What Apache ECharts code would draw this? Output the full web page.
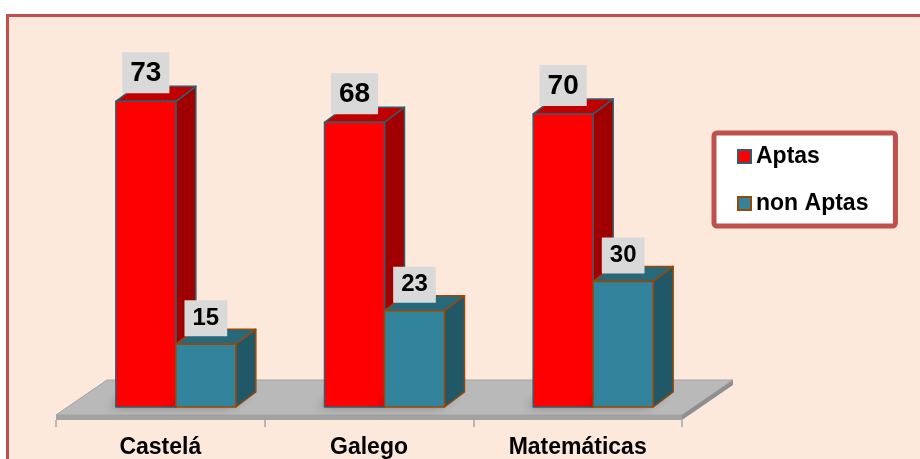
<!DOCTYPE html>
<html>
<head>
<meta charset="utf-8">
<script src="https://cdn.jsdelivr.net/npm/echarts@6/dist/echarts.min.js"></script>
<style>
  html, body { margin: 0; padding: 0; background: #fff; }
  #chart { width: 920px; height: 459px; }
</style>
</head>
<body>
<div id="chart"></div>
<script>
// datos
const categories = ['Castelá', 'Galego', 'Matemáticas']
const aptas = [73, 68, 70]
const nonAptas = [15, 23, 30]
const seriesNames = ['Aptas', 'non Aptas']

const FONT = '"Liberation Sans", Arial, sans-serif'
// profundidade das barras e do chan
const DEPTH_X = 20
const DEPTH_Y = -15
const FLOOR_X = 51
const FLOOR_Y = -35
const FLOOR_EDGE = 5
// as barras asentan no medio do chan
const BAR_SHIFT_X = 15.5
const BAR_SHIFT_Y = 13
const BAR_RATIO = 0.2875

const palette = {
  Aptas: { front: '#FF0000', top: '#C00000', side: '#A00000', stroke: '#2F5F6D', labelFont: 28, pad: [7, 8, 6, 8] },
  'non Aptas': { front: '#31849B', top: '#27687A', side: '#215868', stroke: '#984807', labelFont: 24, pad: [6, 8, 6, 8] }
}

/** chan gris en perspectiva */
const renderFloor = (params) => {
  const cs = params.coordSys
  const fx = cs.x
  const fy = cs.y + cs.height - FLOOR_EDGE
  const w = cs.width
  return {
    type: 'group',
    silent: true,
    children: [
      {
        type: 'polygon',
        shape: { points: [[fx, fy], [fx + w, fy], [fx + w + FLOOR_X, fy + FLOOR_Y], [fx + FLOOR_X, fy + FLOOR_Y]] },
        style: { fill: '#B9B9B9', stroke: '#A3A3A3', lineWidth: 1 }
      },
      {
        type: 'polygon',
        shape: { points: [[fx, fy], [fx + w, fy], [fx + w, fy + FLOOR_EDGE], [fx, fy + FLOOR_EDGE]] },
        style: { fill: '#A2A2A2' }
      },
      {
        type: 'polygon',
        shape: { points: [[fx + w, fy], [fx + w + FLOOR_X, fy + FLOOR_Y], [fx + w + FLOOR_X, fy + FLOOR_Y + FLOOR_EDGE], [fx + w, fy + FLOOR_EDGE]] },
        style: { fill: '#8F8F8F' }
      }
    ]
  }
}

/** barra 3D: fronte, tapa e lateral */
const makeBarRenderer = (name, side) => (params, api) => {
  const c = palette[name]
  const idx = api.value(0)
  const val = api.value(1)
  const base = api.coord([idx, 0])
  const top = api.coord([idx, val])
  const bw = api.size([1, 0])[0] * BAR_RATIO
  const x0 = base[0] + BAR_SHIFT_X + side * bw
  const y0 = base[1] - BAR_SHIFT_Y
  const yt = top[1] - BAR_SHIFT_Y
  const stroke = { stroke: c.stroke, lineWidth: 1.5, lineJoin: 'round' }
  return {
    type: 'group',
    children: [
      {
        type: 'polygon',
        shape: { points: [[x0, y0], [x0 + bw, y0], [x0 + bw + DEPTH_X, y0 + DEPTH_Y], [x0 + DEPTH_X, y0 + DEPTH_Y]] },
        style: { fill: 'rgba(60,60,60,0.55)', shadowBlur: 10, shadowColor: 'rgba(0,0,0,0.6)', shadowOffsetX: -6 }
      },
      {
        type: 'polygon',
        shape: { points: [[x0 + bw, yt], [x0 + bw + DEPTH_X, yt + DEPTH_Y], [x0 + bw + DEPTH_X, y0 + DEPTH_Y], [x0 + bw, y0]] },
        style: Object.assign({ fill: c.side }, stroke)
      },
      {
        type: 'polygon',
        shape: { points: [[x0, yt], [x0 + bw, yt], [x0 + bw + DEPTH_X, yt + DEPTH_Y], [x0 + DEPTH_X, yt + DEPTH_Y]] },
        style: Object.assign({ fill: c.top }, stroke)
      },
      {
        type: 'rect',
        shape: { x: x0, y: yt, width: bw, height: y0 - yt },
        style: Object.assign({ fill: c.front }, stroke)
      },
      {
        type: 'text',
        x: x0 + bw / 2,
        y: yt - 8,
        style: {
          text: String(val),
          align: 'center',
          verticalAlign: 'bottom',
          font: 'bold ' + c.labelFont + 'px ' + FONT,
          lineHeight: c.labelFont,
          fill: '#000',
          backgroundColor: '#D9D9D9',
          padding: c.pad
        }
      }
    ]
  }
}

const toPoints = (arr) => arr.map((v, i) => [i, v])

const option = {
  animation: false,
  backgroundColor: '#fff',
  graphic: [
    {
      type: 'rect',
      z: -10,
      silent: true,
      shape: { x: 7.5, y: 15.5, width: 1000, height: 1000 },
      style: { fill: '#FCE9DB', stroke: '#C0504D', lineWidth: 3 }
    }
  ],
  grid: { left: 56, right: 238, top: 85, bottom: 38 },
  xAxis: {
    type: 'category',
    data: categories,
    axisLine: { show: false },
    axisTick: { show: true, length: 7, lineStyle: { color: '#A6A6A6', width: 1.5 } },
    axisLabel: { margin: 16, fontFamily: FONT, fontWeight: 'bold', fontSize: 23, color: '#000' },
    splitLine: { show: false }
  },
  yAxis: { type: 'value', min: 0, max: 80, show: false },
  legend: {
    orient: 'vertical',
    left: 714,
    top: 133,
    padding: [12, 27, 11, 23],
    itemWidth: 13,
    itemHeight: 13,
    itemGap: 24,
    icon: 'rect',
    backgroundColor: '#fff',
    borderColor: '#C0504D',
    borderWidth: 5,
    borderRadius: 3,
    textStyle: { fontFamily: FONT, fontWeight: 'bold', fontSize: 23, lineHeight: 23, color: '#000' },
    data: [
      { name: seriesNames[0], itemStyle: { color: palette.Aptas.front, borderColor: palette.Aptas.stroke, borderWidth: 2 } },
      { name: seriesNames[1], itemStyle: { color: palette['non Aptas'].front, borderColor: palette['non Aptas'].stroke, borderWidth: 2 } }
    ]
  },
  series: [
    {
      type: 'custom',
      name: 'floor',
      silent: true,
      z: 1,
      renderItem: renderFloor,
      data: [[0, 0]]
    },
    {
      type: 'custom',
      name: seriesNames[0],
      z: 2,
      itemStyle: { color: palette.Aptas.front },
      renderItem: makeBarRenderer(seriesNames[0], -1),
      encode: { x: 0, y: 1 },
      data: toPoints(aptas)
    },
    {
      type: 'custom',
      name: seriesNames[1],
      z: 3,
      itemStyle: { color: palette['non Aptas'].front },
      renderItem: makeBarRenderer(seriesNames[1], 0),
      encode: { x: 0, y: 1 },
      data: toPoints(nonAptas)
    }
  ]
}

const chart = echarts.init(document.getElementById('chart'), null, { renderer: 'canvas' })
chart.setOption(option)
</script>
</body>
</html>
